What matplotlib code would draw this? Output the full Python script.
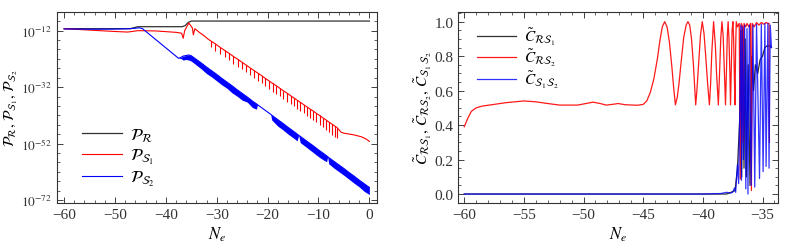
import numpy as np
import matplotlib
matplotlib.use("Agg")
import matplotlib.pyplot as plt
from matplotlib.ticker import FixedLocator, NullFormatter

plt.rcParams["font.family"] = ["Liberation Serif", "DejaVu Serif"]
plt.rcParams["mathtext.fontset"] = "stix"

# ---- left panel: power spectra (log10 values) ----
black_x = [-60, -47, -45.5, -36.8, -36.2, -35.6, -35.0, 0]
black_y = [-11.3, -11.3, -10.6, -10.6, -10.2, -9.1, -8.6, -8.6]

red_pre_x = [-60, -55, -50, -47.5, -45.5, -42, -38, -36.9, -36.6, -36.3, -35.5,
             -34.8, -34.6, -34.3, -33.5, -32.5, -31.7]
red_pre_y = [-11.3, -11.8, -12.3, -12.5, -12.0, -12.1, -12.6, -12.9, -14.7, -12.0, -9.3,
             -11.0, -13.5, -11.3, -12.5, -13.8, -15.0]
red_spike_x = [-31.2, -30.25, -29.35, -28.45, -27.6, -26.75, -25.9, -25.1, -24.3, -23.5,
               -22.7, -21.95, -21.2, -20.45, -19.7, -19.0, -18.3, -17.6, -16.9, -16.2,
               -15.5, -14.85, -14.2, -13.55, -12.9, -12.25, -11.6, -11.0, -10.4, -9.8,
               -9.2, -8.6, -8.0, -7.4, -6.8, -6.3]
red_spike_top = [-15.6, -16.7, -17.9, -19.0, -20.0, -21.1, -22.1, -23.1, -24.1, -25.1,
                 -26.1, -27.0, -27.9, -28.9, -29.8, -30.7, -31.5, -32.4, -33.3, -34.1,
                 -35.0, -35.8, -36.6, -37.4, -38.2, -39.0, -39.8, -40.5, -41.3, -42.0,
                 -42.8, -43.5, -44.3, -45.0, -45.8, -46.4]
red_spike_depth = [2.3, 2.4, 2.4, 2.5, 2.5, 2.6, 2.6, 2.6, 2.7, 2.7,
                   2.7, 2.8, 2.8, 2.8, 2.8, 2.9, 2.9, 2.9, 2.9, 3.0,
                   3.0, 3.0, 3.0, 3.1, 3.1, 3.1, 3.2, 3.2, 3.2, 3.3,
                   3.4, 3.5, 3.6, 3.8, 3.8, 3.5]
red_tail_x = [-5.6, -5.0, -3.0, -1.5, -0.5, 0.0]
red_tail_y = [-47.9, -48.3, -48.9, -49.6, -50.5, -51.2]

blue_x = [-60, -55, -50, -47, -45.2, -44.6, -37.5, -37.0, -36.6, -36.0, -35.5, -35.0,
          -34, -33, -32, -31, -30, -29, -28, -27, -26, -25, -24, -23, -22.2, -22.0,
          -19.4, -19.2, -18, -17, -16, -15, -14.2, -13.9, -13.6, -12, -11, -10, -9,
          -8.4, -8.2, -8.0, -7, -6, -5, -4, -3, -2, -1, 0]
blue_top = [-11.4, -11.5, -11.45, -11.3, -11.0, -11.3, -21.8, -21.4, -21.0, -20.8, -20.6, -20.9,
            -22.2, -23.5, -24.9, -26.2, -27.5, -28.9, -30.2, -31.5, -32.9, -34.2, -35.5, -36.9, -37.9, -38.2,
            -41.6, -41.9, -43.5, -44.8, -46.2, -47.5, -48.6, -49.0, -49.4, -51.5, -52.8, -54.2, -55.5,
            -56.3, -56.6, -56.9, -58.2, -59.5, -60.8, -62.2, -63.5, -64.9, -66.2, -67.5]
blue_lo = [-11.4, -11.5, -11.45, -11.3, -11.0, -11.3, -21.8, -21.9, -22.4, -22.2, -22.4, -22.8,
           -24.2, -25.6, -27.2, -28.4, -29.8, -31.2, -32.4, -34.0, -35.2, -36.6, -37.3, -39.2, -39.8, -38.2,
           -41.6, -43.6, -45.8, -47.1, -48.6, -49.9, -51.0, -49.0, -51.6, -53.8, -55.2, -56.6, -57.8,
           -58.4, -56.6, -59.1, -60.6, -61.9, -63.2, -64.6, -66.0, -67.3, -68.9, -70.0]

# ---- right panel: correlations ----
cb_x = [-60, -38, -37.3, -37.1, -36.9, -36.8, -36.75, -36.65, -36.55, -36.45, -36.35, -36.2,
        -36.05, -35.9, -35.75, -35.6, -35.4, -35.2, -35.0, -34.8, -34.6, -34.4, -34.25]
cb_y = [0.0, 0.0, 0.02, 0.15, 0.45, 0.95, 0.1, 0.95, 0.15, 0.9, 0.1, 0.75,
        0.05, 0.8, 0.6, 0.75, 0.7, 0.78, 0.8, 0.85, 0.86, 0.86, 0.85]

cr_x = [-60.0, -59.7, -59.4, -59.0, -58.5, -57.5, -56.5, -55.0, -54.0, -53.0, -52.0, -50.5,
        -49.8, -49.2, -48.6, -48.1, -47.6, -47.1, -46.5, -45.5, -45.0,
        -44.7, -44.4, -44.1, -43.8, -43.6, -43.4, -43.2, -43.0, -42.8, -42.6, -42.45, -42.3,
        -42.15, -42.0, -41.8, -41.6, -41.4, -41.25, -41.1, -40.95, -40.8, -40.7, -40.6,
        -40.5, -40.35, -40.2, -40.05, -39.9, -39.75, -39.6, -39.45,
        -39.35, -39.25, -39.1, -38.95, -38.85, -38.7,
        -38.6, -38.5, -38.4, -38.3, -38.2, -38.1,
        -38.02, -37.95, -37.88, -37.81, -37.74, -37.68,
        -37.6, -37.55, -37.48, -37.42, -37.37, -37.31,
        -37.25, -37.2, -37.1, -36.95, -36.86, -36.78, -36.65, -36.6, -36.55,
        -36.4, -36.3, -36.15, -36.0, -35.93, -35.86, -35.7, -35.5, -35.3, -35.1, -34.9, -34.7,
        -34.55, -34.45, -34.42]
cr_y = [0.39, 0.44, 0.48, 0.50, 0.51, 0.52, 0.53, 0.54, 0.535, 0.525, 0.516, 0.516,
        0.525, 0.533, 0.525, 0.516, 0.52, 0.525, 0.518, 0.515, 0.52,
        0.54, 0.59, 0.67, 0.79, 0.89, 0.97, 1.0, 0.97, 0.88, 0.74, 0.62, 0.517,
        0.56, 0.64, 0.78, 0.91, 0.98, 1.0, 0.98, 0.9, 0.76, 0.64, 0.517,
        0.6, 0.76, 0.92, 1.0, 0.93, 0.79, 0.64, 0.517,
        0.64, 0.82, 1.0, 0.86, 0.7, 0.517,
        0.7, 0.9, 1.0, 0.92, 0.72, 0.517,
        0.72, 0.92, 1.0, 0.9, 0.72, 0.517,
        0.78, 0.95, 1.0, 0.9, 0.72, 0.517,
        0.85, 1.0, 0.97, 0.99, 0.087, 0.99, 0.97, 0.3, 0.99,
        0.97, 0.99, 0.97, 0.99, 0.02, 0.99, 0.97, 0.995, 0.98, 0.995, 0.985, 0.995,
        0.99, 0.99, 0.30]

cbl_x = [-60, -40, -38.5, -38.0, -37.7, -37.5, -37.35, -37.25, -37.1, -37.0, -36.9, -36.82,
         -36.76, -36.68, -36.6, -36.5, -36.4, -36.3, -36.22, -36.1, -35.95, -35.8, -35.65,
         -35.5, -35.25, -35.1, -34.95, -34.8, -34.7, -34.55, -34.45, -34.35, -34.25]
cbl_y = [0.0, 0.0, 0.003, 0.01, 0.005, 0.01, 0.035, 0.01, 0.17, 0.06, 0.5, 0.98,
         0.08, 0.97, 0.2, 0.98, 0.03, 0.96, 0.0, 0.98, 0.05, 0.98, 0.04,
         0.985, 0.09, 0.985, 0.13, 0.99, 0.16, 0.99, 0.15, 0.98, 0.85]

fig = plt.figure(figsize=(7.93, 2.53), dpi=100)
ax1 = fig.add_axes([0.0719, 0.1937, 0.4035, 0.7549])
ax2 = fig.add_axes([0.5776, 0.1937, 0.4035, 0.7549])

p = lambda v: 10.0 ** np.asarray(v, dtype=float)

ax1.plot(black_x, p(black_y), color="#303030", lw=0.9, label=r"$\mathcal{P}_{\mathcal{R}}$")
ax1.plot(red_pre_x + red_spike_x + red_tail_x, p(red_pre_y + red_spike_top + red_tail_y),
         color="red", lw=0.8, label=r"$\mathcal{P}_{\mathcal{S}_1}$")
ax1.vlines(red_spike_x, p(np.array(red_spike_top) - np.array(red_spike_depth)),
           p(red_spike_top), color="red", lw=0.8)
ax1.fill_between(blue_x, p(blue_lo), p(blue_top), color="blue", lw=0)
ax1.plot(blue_x, p(blue_top), color="blue", lw=0.8, label=r"$\mathcal{P}_{\mathcal{S}_2}$")

ax1.set_yscale("log")
ax1.set_xlim(-61.4, 1.5)
ax1.set_ylim(10.0 ** -73, 10.0 ** -5.4)
ax1.set_xticks([-60, -50, -40, -30, -20, -10, 0])
ax1.xaxis.set_minor_locator(FixedLocator(np.arange(-60, 1, 2)))
ax1.set_yticks([1e-12, 1e-32, 1e-52, 1e-72])
ax1.set_yticklabels([r"$10^{-12}$", r"$10^{-32}$", r"$10^{-52}$", r"$10^{-72}$"])
ax1.yaxis.set_minor_locator(FixedLocator(10.0 ** (-12 - np.arange(-2, 19) * 20 / 6)))
ax1.yaxis.set_minor_formatter(NullFormatter())
ax1.set_xlabel(r"$N_e$", fontsize=12, labelpad=3)
ax1.set_ylabel(r"$\mathcal{P}_{\mathcal{R}},\,\mathcal{P}_{\mathcal{S}_1},\,\mathcal{P}_{\mathcal{S}_2}$",
               fontsize=10.5)
ax1.yaxis.set_label_coords(-0.115, 0.5)
ax1.legend(loc="lower left", bbox_to_anchor=(0.03, 0.0), frameon=False, fontsize=12,
           handlelength=2.4, labelspacing=0.2, handletextpad=0.5)

ax2.plot(cb_x, cb_y, color="#303030", lw=0.9, label=r"$\tilde{C}_{\mathcal{R}\mathcal{S}_1}$")
ax2.plot(cr_x, cr_y, color="red", lw=0.9, alpha=0.9, label=r"$\tilde{C}_{\mathcal{R}\mathcal{S}_2}$")
ax2.plot(cbl_x, cbl_y, color="blue", lw=0.9, alpha=0.8, label=r"$\tilde{C}_{\mathcal{S}_1\,\mathcal{S}_2}$")
ax2.set_xlim(-60.52, -33.7)
ax2.set_ylim(-0.052, 1.056)
ax2.set_xticks([-60, -55, -50, -45, -40, -35])
ax2.xaxis.set_minor_locator(FixedLocator(np.arange(-60, -33, 1)))
ax2.set_yticks([0.0, 0.2, 0.4, 0.6, 0.8, 1.0])
ax2.set_yticklabels(["0.0", "0.2", "0.4", "0.6", "0.8", "1.0"])
ax2.yaxis.set_minor_locator(FixedLocator(np.arange(-0.05, 1.06, 0.05)))
ax2.set_xlabel(r"$N_e$", fontsize=12, labelpad=3)
ax2.set_ylabel(r"$\tilde{C}_{\mathcal{R}\mathcal{S}_1},\,\tilde{C}_{\mathcal{R}\mathcal{S}_2},\,\tilde{C}_{\mathcal{S}_1\,\mathcal{S}_2}$",
               fontsize=11)
ax2.yaxis.set_label_coords(-0.075, 0.5)
ax2.legend(loc="upper left", bbox_to_anchor=(0.015, 1.0), frameon=False, fontsize=11,
           handlelength=2.6, labelspacing=0.0, handletextpad=0.5)

for ax in (ax1, ax2):
    ax.tick_params(which="both", direction="in", top=True, right=True, labelsize=11,
                   colors="#222222", labelcolor="#333333")
    ax.tick_params(which="major", length=4, width=0.6)
    ax.tick_params(which="minor", length=2, width=0.5)
    for s in ax.spines.values():
        s.set_linewidth(0.8)
        s.set_color("#333333")
ax1.tick_params(axis="y", labelsize=9.5)

fig.savefig("out.png", dpi=100)
